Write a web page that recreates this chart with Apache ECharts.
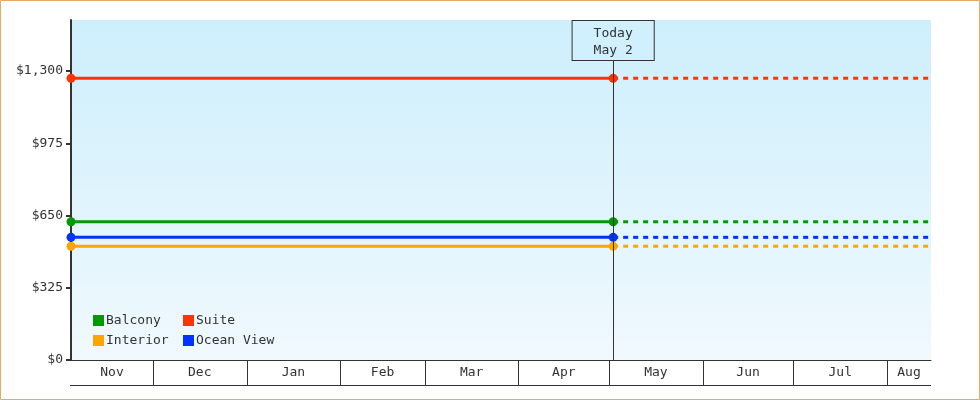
<!DOCTYPE html>
<html>
<head>
<meta charset="utf-8">
<script src="https://cdn.jsdelivr.net/npm/echarts@6/dist/echarts.min.js"></script>
<style>
  html, body { margin: 0; padding: 0; background: #fff; }
  #chart { width: 980px; height: 400px; }
</style>
</head>
<body>
<div id="chart"></div>
<script>
// room types and their price (flat over the whole range)
const roomNames = ['Balcony', 'Suite', 'Interior', 'Ocean View']
const roomPrices = [622, 1268, 512, 552]
const roomColors = ['#009900', '#ff3300', '#ffa500', '#0033ff']

// time range
const rangeStart = '2024-11-03T21:00:00Z'
const rangeEnd = '2025-08-15T13:00:00Z'
const today = '2025-05-02T08:00:00Z'
const todayLabel = 'Today\nMay 2'

// month band under the chart
const monthNames = ['Nov', 'Dec', 'Jan', 'Feb', 'Mar', 'Apr', 'May', 'Jun', 'Jul', 'Aug']
const monthStarts = ['2024-11-01', '2024-12-01', '2025-01-01', '2025-02-01', '2025-03-01',
    '2025-04-01', '2025-05-01', '2025-06-01', '2025-07-01', '2025-08-01', '2025-09-01']

// y axis
const yTicks = [0, 325, 650, 975, 1300]
const yMax = 1530

const FONT = 'DejaVu Sans Mono'
const INK = '#333'

const t = s => Date.parse(s)
const xMin = t(rangeStart)
const xMax = t(rangeEnd)
const tNow = t(today)

let series = []
roomNames.forEach((name, i) => {
    series.push({
        name: name,
        type: 'line',
        color: roomColors[i],
        symbol: 'circle',
        symbolSize: 9,
        lineStyle: { width: 3 },
        z: 3,
        data: [[xMin, roomPrices[i]], [tNow, roomPrices[i]]]
    })
    series.push({
        name: name,
        type: 'line',
        color: roomColors[i],
        symbol: 'none',
        lineStyle: { width: 3, type: [5, 5] },
        z: 3,
        data: [[tNow, roomPrices[i]], [xMax, roomPrices[i]]]
    })
})

// today marker
series[0].markLine = {
    silent: true,
    symbol: 'none',
    animation: false,
    lineStyle: { color: INK, width: 1, type: 'solid' },
    label: {
        show: true,
        position: 'end',
        distance: 0,
        formatter: todayLabel,
        fontFamily: FONT,
        fontSize: 13,
        lineHeight: 17,
        color: INK,
        backgroundColor: '#cff0fc',
        borderColor: INK,
        borderWidth: 1,
        padding: [4, 21, 1, 21]
    },
    data: [[{ coord: [tNow, 0] }, { coord: [tNow, 1350] }]]
}

// month cells drawn from the time axis
series.push({
    type: 'custom',
    silent: true,
    clip: false,
    z: 1,
    encode: { x: [0, 1], y: 2 },
    data: monthNames.map((m, i) => [t(monthStarts[i]), t(monthStarts[i + 1]), 0]),
    renderItem (params, api) {
        let s = Math.max(api.value(0), xMin)
        let e = Math.min(api.value(1), xMax)
        let p0 = api.coord([s, 0])
        let p1 = api.coord([e, 0])
        let y0 = Math.round(p0[1])
        let kids = [{
            type: 'text',
            style: {
                text: monthNames[params.dataIndex],
                x: (p0[0] + p1[0]) / 2,
                y: y0 + 13,
                align: 'center',
                verticalAlign: 'middle',
                font: '13px ' + FONT,
                fill: INK
            }
        }, {
            type: 'line',
            shape: { x1: p0[0] - 1, y1: y0 + 25.5, x2: p1[0], y2: y0 + 25.5 },
            style: { stroke: INK, lineWidth: 1 }
        }]
        if (api.value(0) > xMin) {
            let x = Math.round(p0[0]) + 0.5
            kids.push({
                type: 'line',
                shape: { x1: x, y1: y0, x2: x, y2: y0 + 25 },
                style: { stroke: INK, lineWidth: 1 }
            })
        }
        return { type: 'group', children: kids }
    }
})

const legendBase = {
    orient: 'vertical',
    icon: 'rect',
    itemWidth: 11,
    itemHeight: 11,
    itemGap: 7,
    padding: 0,
    top: 314,
    textStyle: { fontFamily: FONT, fontSize: 13, color: INK, padding: [0, 0, 0, -3] }
}

const option = {
    animation: false,
    textStyle: { fontFamily: FONT },
    graphic: [{
        type: 'rect',
        silent: true,
        shape: { x: 0.5, y: 0.5, width: 979, height: 399 },
        style: { fill: 'none', stroke: '#eaa864', lineWidth: 1 }
    }],
    grid: {
        left: 71, right: 49, top: 20, bottom: 40,
        show: true,
        borderWidth: 0,
        backgroundColor: new echarts.graphic.LinearGradient(0, 0, 0, 1, [
            { offset: 0, color: '#cdeffc' },
            { offset: 1, color: '#f0f9fe' }
        ])
    },
    legend: [
        Object.assign({}, legendBase, { left: 93, data: [roomNames[0], roomNames[2]] }),
        Object.assign({}, legendBase, { left: 183, data: [roomNames[1], roomNames[3]] })
    ],
    xAxis: {
        type: 'time',
        min: xMin,
        max: xMax,
        axisLine: { show: true, lineStyle: { color: INK, width: 1 } },
        axisTick: { show: false },
        axisLabel: { show: false },
        splitLine: { show: false }
    },
    yAxis: {
        type: 'value',
        min: 0,
        max: yMax,
        axisLine: { show: true, lineStyle: { color: INK, width: 2 } },
        axisTick: { show: true, length: 5, customValues: yTicks, lineStyle: { color: INK, width: 2 } },
        axisLabel: {
            customValues: yTicks,
            margin: 8,
            fontFamily: FONT,
            fontSize: 13,
            color: INK,
            formatter: v => '$' + v.toLocaleString('en-US')
        },
        splitLine: { show: false }
    },
    series: series
}

const chart = echarts.init(document.getElementById('chart'))
chart.setOption(option)
</script>
</body>
</html>
